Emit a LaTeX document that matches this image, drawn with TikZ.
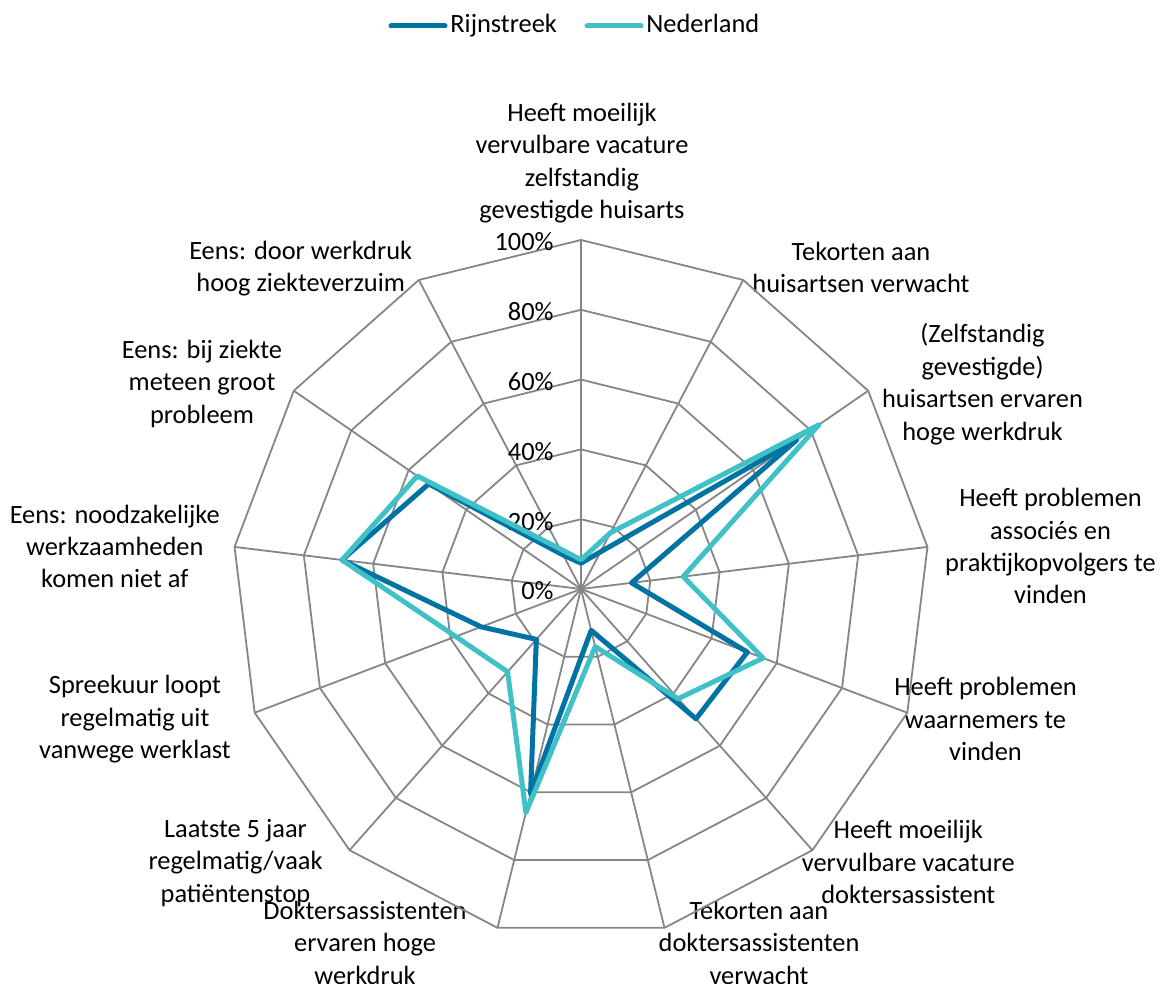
\documentclass[tikz,border=0pt]{standalone}
\usepackage{fontspec}
\setmainfont{Carlito}
\usetikzlibrary{positioning}
\definecolor{rijnblue}{RGB}{0,115,162}
\definecolor{nedcyan}{RGB}{64,193,200}
\definecolor{gridgrey}{RGB}{134,134,134}

\begin{document}
\begin{tikzpicture}[x=0.5pt,y=0.5pt,
	every node/.style = {font=\fontsize{13.2}{16.2}\selectfont, inner sep=0pt},
	grid/.style = {draw=gridgrey, line width=0.9pt},
	rijn/.style = {draw=rijnblue, line width=2.5pt, line join=round, line cap=round},
	ned/.style = {draw=nedcyan, line width=2.5pt, line join=round, line cap=round},
	lbl/.style = {align=center},
	legendtext/.style = {text height=0.64em, text depth=0pt},
	pct/.style = {anchor=east}]
	\useasboundingbox (0,0) rectangle (1162,984);
	% legend
	\coordinate (rl1) at (391,958);
	\coordinate (rl2) at (445,958);
	\draw[rijn] (rl1)--(rl2);
	\node[legendtext] (rijn) [right=2.5pt of rl2] {Rijnstreek};
	\coordinate (nl1) at (587,958);
	\coordinate (nl2) at (641,958);
	\draw[ned] (nl1)--(nl2);
	\node[legendtext] (ned) [right=2.5pt of nl2] {Nederland};
	% axis labels
	\node[lbl] (vacha) at (582,821) {Heeft moeilijk\\vervulbare vacature\\zelfstandig\\gevestigde huisarts};
	\node[lbl] (tekha) at (861,716.7) {Tekorten aan\\huisartsen verwacht};
	\node[lbl] (werkha) at (982.5,599.8) {(Zelfstandig\\gevestigde)\\huisartsen ervaren\\hoge werkdruk};
	\node[lbl] (assoc) at (1050.5,437.8) {Heeft problemen\\associés en\\praktijkopvolgers te\\vinden};
	\node[lbl] (waarn) at (985.5,264.8) {Heeft problemen\\waarnemers te\\vinden};
	\node[lbl] (vacda) at (908.3,121.8) {Heeft moeilijk\\vervulbare vacature\\doktersassistent};
	\node[lbl] (tekda) at (759,41.2) {Tekorten aan\\doktersassistenten\\verwacht};
	\node[lbl] (werkda) at (365,41.2) {Doktersassistenten\\ervaren hoge\\werkdruk};
	\node[lbl] (pstop) at (235.5,121.2) {Laatste 5 jaar\\regelmatig/vaak\\patiëntenstop};
	\node[lbl] (spreek) at (135,264.8) {Spreekuur loopt\\regelmatig uit\\vanwege werklast};
	\node[lbl] (noodz) at (114.8,437.6) {Eens: noodzakelijke\\werkzaamheden\\komen niet af};
	\node[lbl] (ziekte) at (202,600.2) {Eens: bij ziekte\\meteen groot\\probleem};
	\node[lbl] (verzuim) at (300.7,715.2) {Eens: door werkdruk\\hoog ziekteverzuim};
	\begin{scope}[shift={(581,395)}]
		% web
		\foreach \r in {69.8,139.6,209.4,279.2,349}
			\draw[grid] (90:\r) \foreach \k in {1,...,12}{ -- (90-\k*27.6923:\r)} -- cycle;
		\foreach \k in {0,...,12}
			\draw[grid] (0,0) -- (90-\k*27.6923:349);
		\node[pct] (p0) at (-27,-2) {0\%};
		\node[pct] (p20) at (-27,67.8) {20\%};
		\node[pct] (p40) at (-27,137.6) {40\%};
		\node[pct] (p60) at (-27,207.4) {60\%};
		\node[pct] (p80) at (-27,277.2) {80\%};
		\node[pct] (p100) at (-27,347) {100\%};
		% data points
		\foreach \v [count=\k from 0, evaluate=\v as \rr using \v*3.49] in {7.4,12,75,14.6,51,49.7,12.2,60.4,19.3,30.6,69,53,11}
			\coordinate (r\k) at (90-\k*27.6923:\rr);
		\foreach \v [count=\k from 0, evaluate=\v as \rr using \v*3.49] in {8.4,18.2,82.8,29.5,55.8,42,17,66,31.7,38.4,69,57,13}
			\coordinate (n\k) at (90-\k*27.6923:\rr);
		\draw[rijn] (r0)--(r1)--(r2)--(r3)--(r4)--(r5)--(r6)--(r7)--(r8)--(r9)--(r10)--(r11)--(r12)--cycle;
		\draw[ned] (n0)--(n1)--(n2)--(n3)--(n4)--(n5)--(n6)--(n7)--(n8)--(n9)--(n10)--(n11)--(n12)--cycle;
	\end{scope}
\end{tikzpicture}
\end{document}
